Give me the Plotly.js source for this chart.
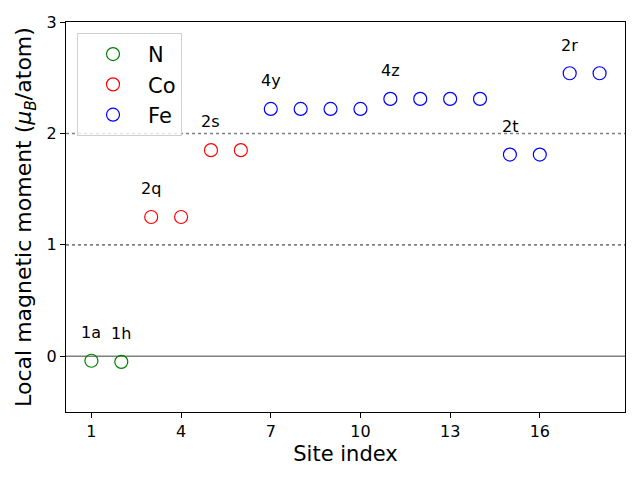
<!DOCTYPE html>
<html>
<head>
<meta charset="utf-8">
<script src="https://cdn.plot.ly/plotly-3.0.1.min.js"></script>
<style>html,body{margin:0;padding:0;background:#fff;}#chart{width:640px;height:480px;}</style>
</head>
<body>
<div id="chart"></div>
<script>
const nSites = [1, 2];
const nValues = [-0.04, -0.05];
const coSites = [3, 4, 5, 6];
const coValues = [1.25, 1.25, 1.85, 1.85];
const feSites = [7, 8, 9, 10, 11, 12, 13, 14, 15, 16, 17, 18];
const feValues = [2.22, 2.22, 2.22, 2.22, 2.31, 2.31, 2.31, 2.31, 1.81, 1.81, 2.54, 2.54];
const labelText = ['1a', '1h', '2q', '2s', '4y', '4z', '2t', '2r'];
const labelSites = [1, 2, 3, 5, 7, 11, 15, 17];
const xTicks = [1, 4, 7, 10, 13, 16];

const allSites = nSites.concat(coSites, feSites);
const allValues = nValues.concat(coValues, feValues);
const valueAt = s => allValues[allSites.indexOf(s)];

function series(name, x, y, color) {
  return {
    type: 'scatter', mode: 'markers', name: name, x: x, y: y,
    marker: {symbol: 'circle-open', size: 13, color: color, line: {color: color, width: 1.2}}
  };
}

const data = [
  series('N', nSites, nValues, 'green'),
  series('Co', coSites, coValues, 'red'),
  series('Fe', feSites, feValues, 'blue')
];

const annotations = labelText.map((t, i) => ({
  x: labelSites[i], y: valueAt(labelSites[i]) + 0.15,
  xref: 'x', yref: 'y', text: t, showarrow: false,
  xanchor: 'center', yanchor: 'bottom',
  font: {family: 'DejaVu Sans', size: 16, color: 'black'}
}));

const shapes = [
  {type: 'line', xref: 'paper', x0: 0, x1: 1, yref: 'y', y0: 0, y1: 0, line: {color: 'gray', width: 1.6}, layer: 'below'},
  {type: 'line', xref: 'paper', x0: 0, x1: 1, yref: 'y', y0: 1, y1: 1, line: {color: 'gray', width: 1.6, dash: 'dot'}, layer: 'below'},
  {type: 'line', xref: 'paper', x0: 0, x1: 1, yref: 'y', y0: 2, y1: 2, line: {color: 'gray', width: 1.6, dash: 'dot'}, layer: 'below'}
];

const layout = {
  width: 640, height: 480,
  margin: {l: 66, r: 15, t: 22, b: 68, pad: 0},
  paper_bgcolor: 'white', plot_bgcolor: 'white',
  font: {family: 'DejaVu Sans', color: 'black'},
  showlegend: true,
  legend: {
    x: 0.0197, y: 0.972, xanchor: 'left', yanchor: 'top',
    bgcolor: 'rgba(255,255,255,0.8)', bordercolor: '#d0d0d0', borderwidth: 1,
    font: {family: 'DejaVu Sans', size: 21, color: 'black'},
    itemwidth: 60
  },
  xaxis: {
    range: [0.15, 18.85], tickmode: 'array', tickvals: xTicks, ticktext: xTicks.map(String),
    showgrid: false, zeroline: false, showline: true, mirror: true, linecolor: 'black', linewidth: 1,
    ticks: 'outside', ticklen: 5, tickcolor: 'black', tickfont: {size: 16},
    title: {text: 'Site index', font: {size: 21}, standoff: 6}
  },
  yaxis: {
    range: [-0.5, 3], tickmode: 'array', tickvals: [0, 1, 2, 3],
    showgrid: false, zeroline: false, showline: true, mirror: true, linecolor: 'black', linewidth: 1,
    ticks: 'outside', ticklen: 5, tickcolor: 'black', tickfont: {size: 16},
    title: {text: 'Local magnetic moment (<i>μ<sub>B</sub></i>/atom)', font: {size: 22}, standoff: 8}
  },
  shapes: shapes,
  annotations: annotations
};

Plotly.newPlot('chart', data, layout, {displayModeBar: false, staticPlot: true});
</script>
</body>
</html>
